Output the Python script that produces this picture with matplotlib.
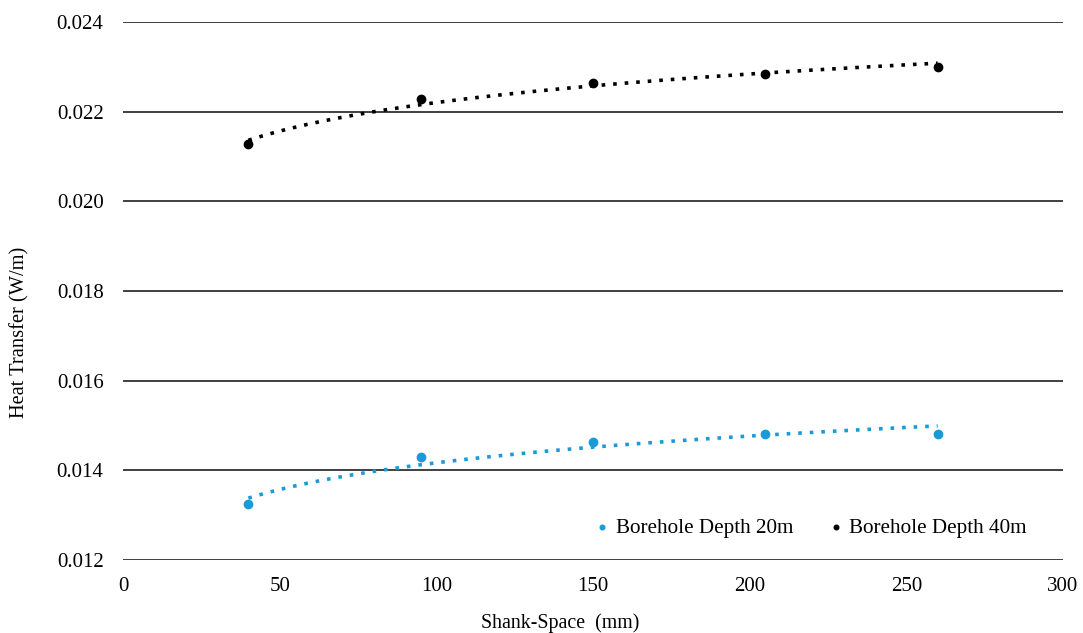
import numpy as np
import matplotlib
matplotlib.use("Agg")
import matplotlib.pyplot as plt

plt.rcParams['font.family'] = ['Liberation Serif', 'DejaVu Serif']

# ===================== DADOS =====================
shank_space = [40, 95, 150, 205, 260]
depth_20m = [0.01325, 0.01430, 0.01463, 0.01481, 0.01481]
depth_40m = [0.02128, 0.02228, 0.02264, 0.02284, 0.02300]

cor_20 = "#1b9ad8"
cor_40 = "#000000"

fig = plt.figure(figsize=(10.83, 6.33), dpi=100)
ax = fig.add_axes([0.1136, 0.1153, 0.8679, 0.8499])

# linhas de tendência logarítmicas (como no Excel)
xs = np.linspace(min(shank_space), max(shank_space), 200)
for ys, cor, nome in [(depth_20m, cor_20, "Borehole Depth 20m"),
                      (depth_40m, cor_40, "Borehole Depth 40m")]:
    a, b = np.polyfit(np.log(shank_space), ys, 1)
    ax.plot(xs, a * np.log(xs) + b, color=cor, linestyle=(0, (1, 2.2)),
            linewidth=2.6, zorder=2)
    ax.scatter(shank_space, ys, color=cor, s=36, zorder=3, label=nome)

ax.set_xlim(0, 300)
ax.set_ylim(0.012, 0.024)
ax.set_xticks(range(0, 301, 50))
ax.set_yticks(np.arange(0.012, 0.0241, 0.002))
ax.yaxis.set_major_formatter(plt.FormatStrFormatter('%.3f'))
ax.grid(axis='y', color='#404040', linewidth=1.4)
ax.set_axisbelow(True)
for s in ax.spines.values():
    s.set_visible(False)
ax.tick_params(length=0, labelsize=15)
ax.tick_params(axis='y', pad=14)
ax.tick_params(axis='x', pad=12)

ax.set_xlabel("Shank-Space  (mm)", fontsize=14.3, va='center')
ax.xaxis.set_label_coords(0.465, -0.117)
ax.set_ylabel("Heat Transfer (W/m)", fontsize=14.7, va='center')
ax.yaxis.set_label_coords(-0.1096, 0.424)

ax.legend(loc='lower right', ncol=2, frameon=False, fontsize=15.2,
          markerscale=0.55, handlelength=0.8, handletextpad=0.25,
          columnspacing=1.6, bbox_to_anchor=(0.982, 0.006))

fig.savefig("out.png", dpi=100)
